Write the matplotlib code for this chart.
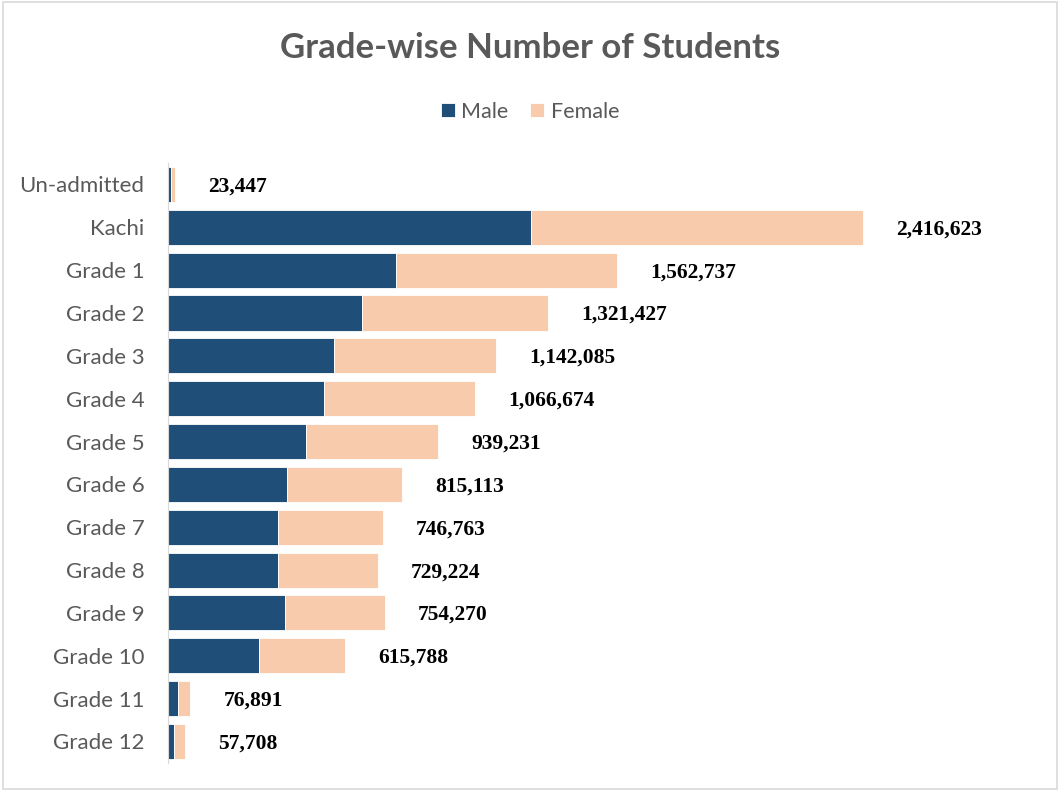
import matplotlib.pyplot as plt
from matplotlib.patches import Rectangle

# data
grades = ['Un-admitted', 'Kachi', 'Grade 1', 'Grade 2', 'Grade 3', 'Grade 4', 'Grade 5',
          'Grade 6', 'Grade 7', 'Grade 8', 'Grade 9', 'Grade 10', 'Grade 11', 'Grade 12']
totals = [23447, 2416623, 1562737, 1321427, 1142085, 1066674, 939231,
          815113, 746763, 729224, 754270, 615788, 76891, 57708]
male = [10500, 1262000, 793000, 674000, 577000, 542000, 479000,
        414000, 382000, 381000, 407000, 316000, 35000, 22000]
female = [t - m for t, m in zip(totals, male)]

male_color = '#1F4E79'
female_color = '#F8CBAD'
grey = '#595959'

fig = plt.figure(figsize=(10.6, 7.91), dpi=100)
fig.patches.append(Rectangle((0.003, 0.003), 0.994, 0.994, transform=fig.transFigure,
                             fill=False, edgecolor='#D9D9D9', linewidth=1.2))

ax = fig.add_axes([0.1585, 0.0355, 0.7594, 0.7585])
y = range(len(grades))
ax.barh(y, male, height=0.82, color=male_color, edgecolor='white', linewidth=0.6, label='Male')
ax.barh(y, female, left=male, height=0.82, color=female_color, edgecolor='white', linewidth=0.6,
        label='Female')

for i, t in enumerate(totals):
    ax.annotate(f'{t:,}', xy=(t, i), xytext=(24, -1.5), textcoords='offset points',
                ha='left', va='center', fontsize=15.5, fontweight='bold',
                family='Liberation Serif', color='black')

ax.set_yticks(list(y))
ax.set_yticklabels(grades, fontsize=16, color=grey, family='Lato')
ax.tick_params(axis='y', length=0, pad=17)
ax.set_xticks([])
ax.set_xlim(0, 2800000)
ax.set_ylim(13.5, -0.5)
for s in ['top', 'right', 'bottom']:
    ax.spines[s].set_visible(False)
ax.spines['left'].set_color('#D9D9D9')

fig.text(0.5, 0.939, 'Grade-wise Number of Students', ha='center', va='center',
         fontsize=25, fontweight='bold', color=grey, family='Lato')
fig.legend(loc='center', bbox_to_anchor=(0.5, 0.859), ncol=2, frameon=False,
           prop={'family': 'Lato', 'size': 15.5}, labelcolor=grey,
           handlelength=0.65, handleheight=0.65, handletextpad=0.3, columnspacing=1.0)

fig.savefig('out.png', dpi=100)
